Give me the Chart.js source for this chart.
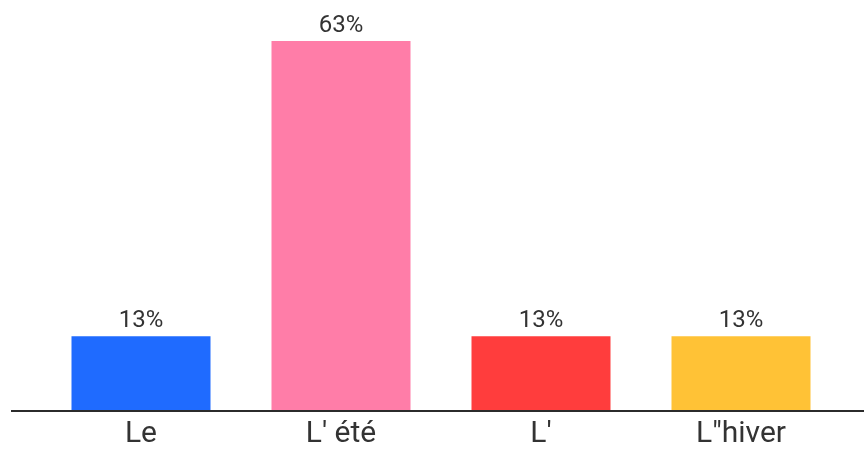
<!DOCTYPE html>
<html>
<head>
<meta charset="utf-8">
<script src="https://cdn.jsdelivr.net/npm/chart.js@4.4.0/dist/chart.umd.min.js"></script>
<style>
  body { margin: 0; background: #fff; }
  canvas { display: block; }
</style>
</head>
<body>
<canvas id="myChart" width="864" height="451"></canvas>
<script>
const categories = ["Le", "L' été", "L'", "L\"hiver"]
const shares = [12.5, 62.5, 12.5, 12.5]
const barColors = ["#1f6bff", "#ff7da8", "#ff3d3d", "#ffc236"]

const textColor = "#333333"

// value labels above the bars + long baseline
const extras = {
    id: "extras",
    afterDatasetsDraw(chart) {
        const ctx = chart.ctx
        const meta = chart.getDatasetMeta(0)
        ctx.save()
        ctx.font = "24px Roboto"
        ctx.fillStyle = textColor
        ctx.textAlign = "center"
        ctx.textBaseline = "alphabetic"
        meta.data.forEach((bar, i) => {
            ctx.fillText(Math.round(shares[i]) + "%", bar.x, bar.y - 9)
        })
        const y = chart.chartArea.bottom + 1
        ctx.strokeStyle = "#2b2b2b"
        ctx.lineWidth = 2
        ctx.beginPath()
        ctx.moveTo(11, y)
        ctx.lineTo(chart.width, y)
        ctx.stroke()
        ctx.restore()
    }
}

let ctx = document.getElementById("myChart").getContext("2d")
let myChart = new Chart(ctx, {
    type: "bar",
    data: {
        labels: categories,
        datasets: [{
            data: shares,
            backgroundColor: barColors,
            barPercentage: 0.695,
            categoryPercentage: 1
        }]
    },
    options: {
        responsive: false,
        animation: false,
        layout: { padding: { left: 41, right: 23, top: 41, bottom: -7 } },
        plugins: { legend: { display: false }, tooltip: { enabled: false } },
        scales: {
            x: {
                grid: { display: false, drawTicks: false },
                border: { display: false },
                ticks: {
                    color: textColor,
                    font: { family: "Roboto", size: 30 },
                    padding: 6
                }
            },
            y: {
                display: false,
                min: 0,
                max: 62.5
            }
        }
    },
    plugins: [extras]
})
</script>
</body>
</html>
